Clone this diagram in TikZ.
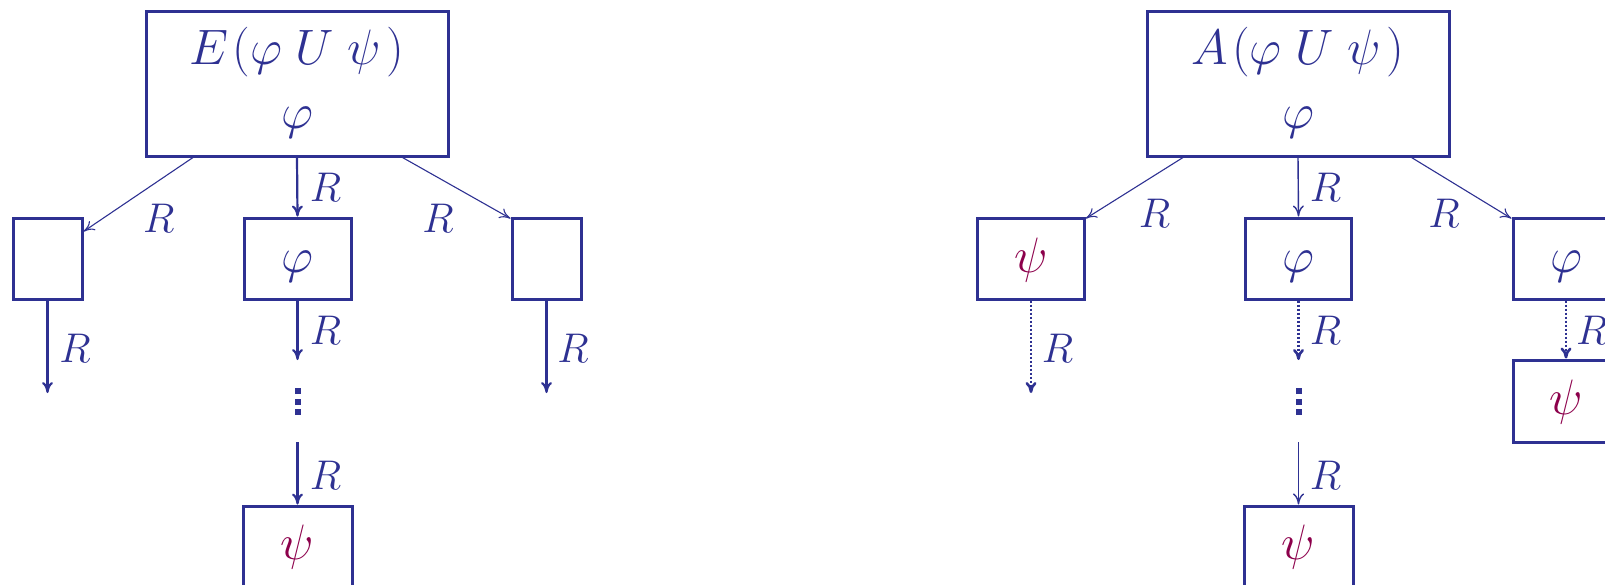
\documentclass[tikz,border=0pt]{standalone}
\usetikzlibrary{arrows.meta}
\definecolor{cblue}{RGB}{46,49,146}
\definecolor{cpsi}{RGB}{140,0,75}
\newcommand\myvdots{\vbox{\offinterlineskip\hbox{\rule{3pt}{3pt}}\vskip2.2pt\hbox{\rule{3pt}{3pt}}\vskip2.2pt\hbox{\rule{3pt}{3pt}}}}
\begin{document}
\begin{tikzpicture}[x=0.5pt,y=-0.5pt,
  bx/.style={draw=cblue, line width=1.5pt, inner sep=0pt, minimum height=40.5pt,
    text height=18.5pt, text depth=5pt, font=\fontsize{27}{32}\selectfont, text=cblue},
  bigbox/.style={draw=cblue, line width=1.5pt, inner sep=0pt, minimum width=151pt, minimum height=72.5pt},
  mtxt/.style={text=cblue, font=\fontsize{27}{32}\selectfont, inner sep=0pt},
  htxt/.style={text=cblue, font=\fontsize{28}{32}\selectfont, inner sep=0pt},
  lab/.style={text=cblue, font=\fontsize{22}{26}\selectfont, inner sep=0pt},
  dts/.style={text=cblue, inner sep=0pt},
  tip/.style={-{To[length=5.5pt,width=5.5pt]}},
  thinarr/.style={tip, draw=cblue, line width=0.55pt},
  vertarr/.style={tip, draw=cblue, line width=1.1pt},
  rvarr/.style={tip, draw=cblue, line width=0.7pt},
  dotarr/.style={tip, draw=cblue, line width=1.3pt, dash pattern=on 1pt off 1pt}]
\useasboundingbox (0,0) rectangle (1605,584);

% ---------- left tree ----------
\node[bigbox] (E) at (297,83.5) {};
\node[htxt, anchor=base] (Et) at (297,64) {$E\mkern1.5mu(\varphi\mkern5mu U\mkern5mu\psi\mkern2mu)$};
\node[mtxt, anchor=base] (Ephi) at (297,128) {$\varphi$};

\node[bx, minimum width=34.5pt] (L1) at (47.5,258.5) {};
\node[bx, minimum width=53.5pt] (M1) at (297.5,258.5) {$\varphi$};
\node[bx, minimum width=34.5pt] (R1) at (546.5,258.5) {};
\node[bx, minimum width=54.5pt, minimum height=40pt] (M2) at (297.5,546) {$\color{cpsi}\psi$};

\draw[thinarr] ([xshift=24.25pt]E.south west) -- ([yshift=-7.5pt]L1.north east);
\draw[thinarr] ([xshift=-23.5pt]E.south east) -- ([yshift=-1pt]R1.north west);
\draw[vertarr] (E.south) -- (M1.north);

\coordinate (l1e) at (47.5,393);
\coordinate (r1e) at (546.5,393);
\coordinate (m1e) at (297.5,360);
\coordinate (m2s) at (297.5,442);
\draw[vertarr] (L1.south) -- (l1e);
\draw[vertarr] (R1.south) -- (r1e);
\draw[vertarr] (M1.south) -- (m1e);
\node[dts] (dotsL) at (297.5,401.5) {\myvdots};
\draw[vertarr] (m2s) -- (M2.north);

\node[lab] (la1) at (158.7,218) {$R$};
\node[lab] (la2) at (438,218) {$R$};
\node[lab] (la3) at (325.5,187) {$R$};
\node[lab] (la4) at (75,348) {$R$};
\node[lab] (la5) at (573,348) {$R$};
\node[lab] (la6) at (325.5,330.6) {$R$};
\node[lab] (la7) at (325.5,475) {$R$};

% ---------- right tree ----------
\node[bigbox] (A) at (1298,83.5) {};
\node[htxt, anchor=base] (At) at (1298,64) {$A\mkern1.5mu(\varphi\mkern5mu U\mkern5mu\psi\mkern2mu)$};
\node[mtxt, anchor=base] (Aphi) at (1298,128) {$\varphi$};

\node[bx, minimum width=53.25pt] (P1) at (1031,258.5) {$\color{cpsi}\psi$};
\node[bx, minimum width=52.8pt] (N1) at (1298.5,258.5) {$\varphi$};
\node[bx, minimum width=53pt] (Q1) at (1566,258.5) {$\varphi$};
\node[bx, minimum width=54.5pt, minimum height=40pt] (N2) at (1298.5,546) {$\color{cpsi}\psi$};
\node[bx, minimum width=53pt, minimum height=41pt] (Q2) at (1566,401) {$\color{cpsi}\psi$};

\draw[thinarr] ([xshift=18.75pt]A.south west) -- ([yshift=-1pt]P1.north east);
\draw[thinarr] ([xshift=-19.5pt]A.south east) -- ([yshift=-1pt]Q1.north west);
\draw[rvarr] (A.south) -- (N1.north);

\coordinate (p1e) at (1031,393);
\coordinate (n1e) at (1298.5,360);
\coordinate (n2s) at (1298.5,442);
\draw[dotarr] (P1.south) -- (p1e);
\draw[dotarr] (N1.south) -- (n1e);
\node[dts] (dotsR) at (1298.5,401.5) {\myvdots};
\draw[rvarr] (n2s) -- (N2.north);
\draw[dotarr] (Q1.south) -- (Q2.north);

\node[lab] (lb1) at (1154.6,213) {$R$};
\node[lab] (lb2) at (1444,213) {$R$};
\node[lab] (lb3) at (1325.6,187) {$R$};
\node[lab] (lb4) at (1057.4,348) {$R$};
\node[lab] (lb5) at (1325.6,330.6) {$R$};
\node[lab] (lb6) at (1325.6,475) {$R$};
\node[lab] (lb7) at (1591.7,330.6) {$R$};
\end{tikzpicture}
\end{document}
